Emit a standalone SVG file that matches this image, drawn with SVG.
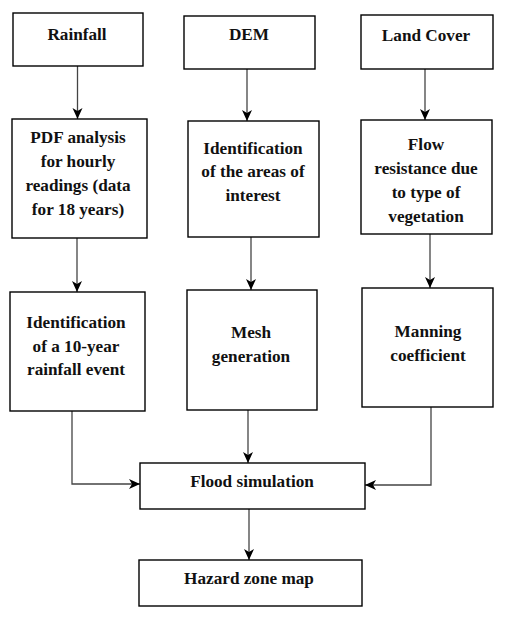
<svg xmlns="http://www.w3.org/2000/svg" width="510" height="622" viewBox="0 0 510 622">
<style>
.box{fill:#fff;stroke:#000;stroke-width:1.4}
.t{font-family:"Liberation Serif","Times New Roman","DejaVu Serif",serif;font-weight:bold;font-size:17.2px;fill:#111;text-anchor:middle}
.c{fill:none;stroke:#444;stroke-width:1.3}
</style>
<defs>
<marker id="ah" markerUnits="userSpaceOnUse" markerWidth="12" markerHeight="12" viewBox="0 0 12 12" refX="11" refY="6" orient="auto">
<path d="M0,1 L11,6 L0,11 L3,6 z" fill="#000"/>
</marker>
</defs>
<rect width="510" height="622" fill="#fff"/>
<g id="connectors">
<path class="c" d="M77.5,66 V119" marker-end="url(#ah)"/>
<path class="c" d="M247,69 V121" marker-end="url(#ah)"/>
<path class="c" d="M425,69 V120" marker-end="url(#ah)"/>
<path class="c" d="M77,238 V292" marker-end="url(#ah)"/>
<path class="c" d="M251,237 V290" marker-end="url(#ah)"/>
<path class="c" d="M430,234 V288" marker-end="url(#ah)"/>
<path class="c" d="M72,411 V484 H140" marker-end="url(#ah)"/>
<path class="c" d="M248,410 V463" marker-end="url(#ah)"/>
<path class="c" d="M431,407 V485 H365" marker-end="url(#ah)"/>
<path class="c" d="M249,509 V560" marker-end="url(#ah)"/>
</g>
<g id="rainfall"><rect class="box" x="13" y="13" width="130" height="53"/><text class="t" x="77" y="40">Rainfall</text></g>
<g id="dem"><rect class="box" x="184" y="16" width="131" height="53"/><text class="t" x="249" y="40">DEM</text></g>
<g id="landcover"><rect class="box" x="361" y="15" width="132" height="54"/><text class="t" x="426" y="41">Land Cover</text></g>
<g id="pdf"><rect class="box" x="12" y="119" width="135" height="119"/>
<text class="t" x="78" y="143">PDF analysis</text>
<text class="t" x="78" y="167">for hourly</text>
<text class="t" x="78" y="191">readings (data</text>
<text class="t" x="78" y="215">for 18 years)</text></g>
<g id="areas"><rect class="box" x="188" y="121" width="131" height="116"/>
<text class="t" x="253" y="154">Identification</text>
<text class="t" x="253" y="177">of the areas of</text>
<text class="t" x="253" y="201">interest</text></g>
<g id="flowres"><rect class="box" x="361" y="120" width="131" height="114"/>
<text class="t" x="426" y="150">Flow</text>
<text class="t" x="426" y="174">resistance due</text>
<text class="t" x="426" y="198">to type of</text>
<text class="t" x="426" y="222">vegetation</text></g>
<g id="event"><rect class="box" x="10" y="292" width="135" height="119"/>
<text class="t" x="76" y="328">Identification</text>
<text class="t" x="76" y="352">of a 10-year</text>
<text class="t" x="76" y="375">rainfall event</text></g>
<g id="mesh"><rect class="box" x="187" y="290" width="130" height="120"/>
<text class="t" x="251" y="338">Mesh</text>
<text class="t" x="251" y="362">generation</text></g>
<g id="manning"><rect class="box" x="362" y="288" width="131" height="119"/>
<text class="t" x="428" y="337">Manning</text>
<text class="t" x="428" y="361">coefficient</text></g>
<g id="flood"><rect class="box" x="140" y="463" width="225" height="46"/><text class="t" x="252" y="487">Flood simulation</text></g>
<g id="hazard"><rect class="box" x="139" y="560" width="223" height="46"/><text class="t" x="249" y="584">Hazard zone map</text></g>
</svg>
